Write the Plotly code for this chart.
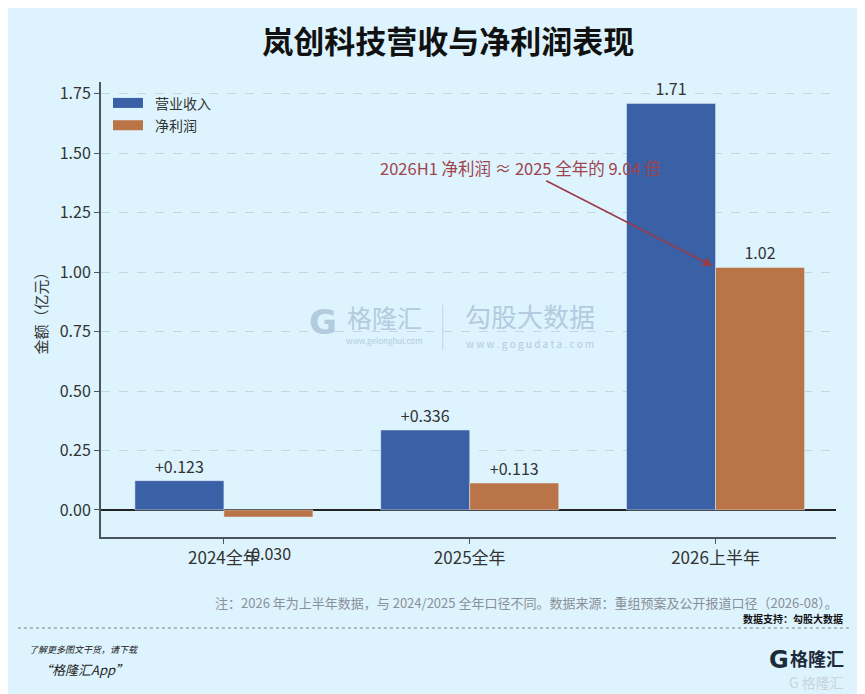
import plotly.graph_objects as go

categories = ["2024全年", "2025全年", "2026上半年"]
series_names = ["营业收入", "净利润"]
revenue = [0.123, 0.336, 1.71]
net_profit = [-0.030, 0.113, 1.02]
revenue_labels = ["+0.123", "+0.336", "1.71"]
profit_labels = ["-0.030", "+0.113", "1.02"]
y_ticks = [0.0, 0.25, 0.5, 0.75, 1.0, 1.25, 1.5, 1.75]

BG = "#ddf3fd"
BLUE = "#3a60a6"
ORANGE = "#b97447"
FONT = "Noto Sans CJK SC"
WM = "#b3cbde"

# negative labels sit a bit further below the bar in the reference
profit_text = [("\u00a0<br>" + t) if v < 0 else t for t, v in zip(profit_labels, net_profit)]

fig = go.Figure()
fig.add_trace(go.Bar(
    name=series_names[0], x=categories, y=revenue, marker_color=BLUE,
    text=revenue_labels, textposition="outside", cliponaxis=False,
    textfont=dict(size=16, color="#333333", family=FONT),
))
fig.add_trace(go.Bar(
    name=series_names[1], x=categories, y=net_profit, marker_color=ORANGE,
    text=profit_text, textposition="outside", cliponaxis=False,
    textfont=dict(size=16, color="#333333", family=FONT),
))

# page has an 8px body margin: compensate so the plot area lands where the reference has it
fig.update_layout(
    width=865, height=694,
    paper_bgcolor=BG, plot_bgcolor=BG,
    font=dict(family=FONT, color="#333333"),
    margin=dict(l=93, r=37, t=74, b=165, autoexpand=False),
    barmode="group", bargap=0.276, bargroupgap=0,
    title=dict(text="<b>岚创科技营收与净利润表现</b>", x=0.509, xanchor="center",
               y=0.951, yanchor="middle",
               font=dict(size=31, color="#111111", family=FONT)),
    showlegend=False,
    uniformtext=dict(mode=False),
)
fig.update_xaxes(
    showline=True, linecolor="#4a5560", linewidth=2, mirror=False,
    ticks="outside", ticklen=5, tickcolor="#4a5560",
    tickfont=dict(size=17, color="#333333"), showgrid=False,
    range=[-0.5, 2.49],
)
fig.update_yaxes(
    range=[-0.114, 1.80], tickvals=y_ticks, tickformat=".2f",
    showline=True, linecolor="#4a5560", linewidth=2,
    ticks="outside", ticklen=5, tickcolor="#4a5560",
    tickfont=dict(size=16, color="#333333"),
    showgrid=True, gridcolor="#c6d6df", griddash="dash", gridwidth=1,
    zeroline=True, zerolinecolor="#222222", zerolinewidth=1.5,
    title=dict(text="金额（亿元）", font=dict(size=15, color="#333333"), standoff=8),
)

# Custom legend (wide swatches like the reference)
for i, (nm, col) in enumerate(zip(series_names, [BLUE, ORANGE])):
    yc = 0.954 - i * 0.049
    fig.add_shape(type="rect", xref="paper", yref="paper", x0=0.0163, x1=0.0571,
                  y0=yc - 0.011, y1=yc + 0.011, fillcolor=col, line=dict(width=0))
    fig.add_annotation(xref="paper", yref="paper", x=0.071, y=yc, xanchor="left",
                       yanchor="middle", text=nm, showarrow=False,
                       font=dict(size=14, color="#333333"))

# Arrow annotation
fig.add_annotation(
    x=1.988, y=1.026, ax=1.305, ay=1.388, xref="x", yref="y", axref="x", ayref="y",
    text="", showarrow=True, arrowhead=2, arrowsize=1.2, arrowwidth=1.6,
    arrowcolor="#9a3b45",
)
fig.add_annotation(
    x=1.207, y=1.439, xref="x", yref="y", text="2026H1 净利润 ≈ 2025 全年的 9.04 倍",
    showarrow=False, font=dict(size=16.5, color="#a0444c"),
)

# Watermark
fig.add_annotation(xref="paper", yref="paper", x=0.28, y=0.473, yanchor="middle",
                   text="<b>G</b>", showarrow=False,
                   font=dict(size=34, color=WM, family="DejaVu Sans"))
fig.add_annotation(xref="paper", yref="paper", x=0.386, y=0.484, yanchor="middle",
                   text="格隆汇", showarrow=False, font=dict(size=25, color=WM))
fig.add_annotation(xref="paper", yref="paper", x=0.386, y=0.431, yanchor="middle",
                   text="www.gelonghui.com", showarrow=False, font=dict(size=8, color=WM))
fig.add_annotation(xref="paper", yref="paper", x=0.584, y=0.487, yanchor="middle",
                   text="勾股大数据", showarrow=False, font=dict(size=26, color=WM))
fig.add_annotation(xref="paper", yref="paper", x=0.584, y=0.425, yanchor="middle",
                   text="w w w . g o g u d a t a . c o m", showarrow=False,
                   font=dict(size=10, color=WM))
fig.add_shape(type="line", xref="paper", yref="paper", x0=0.465, x1=0.465, y0=0.41, y1=0.51,
              line=dict(color="#c0d4e3", width=1))

# Footer
fig.add_annotation(xref="paper", yref="paper", x=1.005, y=-0.145, xanchor="right",
                   yanchor="middle",
                   text="注：2026 年为上半年数据，与 2024/2025 全年口径不同。数据来源：重组预案及公开报道口径（2026-08）。",
                   showarrow=False, font=dict(size=13, color="#8a9098"))
fig.add_annotation(xref="paper", yref="paper", x=1.012, y=-0.179, xanchor="right",
                   yanchor="middle", text="<b>数据支持：勾股大数据</b>",
                   showarrow=False, font=dict(size=10, color="#111111"))
fig.add_shape(type="line", xref="paper", yref="paper", x0=-0.113, x1=1.019, y0=-0.2, y1=-0.2,
              line=dict(color="#7a8088", width=1, dash="dot"))
fig.add_annotation(xref="paper", yref="paper", x=-0.101, y=-0.248, xanchor="left",
                   yanchor="middle", text="<i>了解更多图文干货，请下载</i>",
                   showarrow=False, font=dict(size=9, color="#222222"))
fig.add_annotation(xref="paper", yref="paper", x=-0.087, y=-0.292, xanchor="left",
                   yanchor="middle", text="<i>“格隆汇App”</i>",
                   showarrow=False, font=dict(size=13, color="#222222"))
fig.add_annotation(xref="paper", yref="paper", x=0.939, y=-0.27, xanchor="right",
                   yanchor="middle", text="<b>G</b>",
                   showarrow=False, font=dict(size=24, color="#1d2a3a", family="DejaVu Sans"))
fig.add_annotation(xref="paper", yref="paper", x=1.013, y=-0.266, xanchor="right",
                   yanchor="middle", text="<b>格隆汇</b>",
                   showarrow=False, font=dict(size=18, color="#1d2a3a"))
fig.add_annotation(xref="paper", yref="paper", x=1.013, y=-0.318, xanchor="right",
                   yanchor="middle", text="G 格隆汇",
                   showarrow=False, font=dict(size=14, color="#c8d4dc"))

fig.write_html("out.html")
